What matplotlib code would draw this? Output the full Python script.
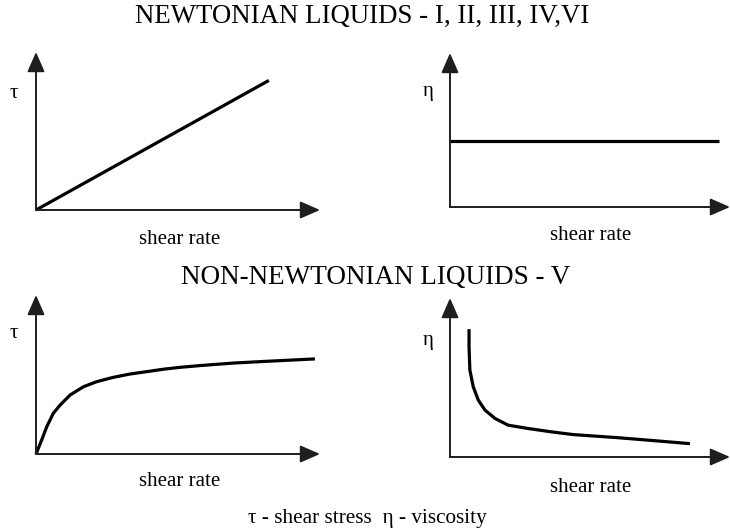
import numpy as np
import matplotlib
matplotlib.use('Agg')
import matplotlib.pyplot as plt

plt.rcParams['font.family'] = ['Liberation Serif', 'DejaVu Serif']

W, H = 730, 530

# panel curves, in units where the axis arrows end at 10
newt_tau_x = [0, 8.2]
newt_tau_y = [0, 8.2]
newt_eta_x = [0, 9.6]
newt_eta_y = [4.3, 4.3]
nonnewt_tau_x = [0, 0.20, 0.38, 0.61, 0.85, 1.20, 1.67, 2.14, 2.72, 3.31, 3.90, 4.48,
                 5.07, 5.77, 6.95, 8.12, 9.82]
nonnewt_tau_y = [0, 0.88, 1.72, 2.56, 3.08, 3.71, 4.23, 4.55, 4.82, 5.03, 5.18, 5.33,
                 5.45, 5.56, 5.72, 5.83, 5.98]
nonnewt_eta_x = [0.68, 0.68, 0.71, 0.83, 1.01, 1.25, 1.61, 2.08, 2.80, 3.63, 4.40,
                 5.95, 7.14, 8.57]
nonnewt_eta_y = [8.04, 6.94, 5.47, 4.42, 3.58, 2.95, 2.42, 2.00, 1.79, 1.58, 1.41,
                 1.22, 1.05, 0.84]

titles = ['NEWTONIAN LIQUIDS - I, II, III, IV,VI', 'NON-NEWTONIAN LIQUIDS - V']
footer = 'τ - shear stress  η - viscosity'
xlab = 'shear rate'

fig = plt.figure(figsize=(W / 100, H / 100), dpi=100)


def panel(x0, y0, x1, y1, xs, ys, ylab, ylab_pos, xlab_y):
    # x0, y0: origin in pixels; x1, y1: arrow tips
    ax = fig.add_axes([x0 / W, 1 - y0 / H, (x1 - x0) / W, (y0 - y1) / H])
    ax.set_xlim(0, 10)
    ax.set_ylim(0, 10)
    ax.axis('off')
    arrow = dict(arrowstyle='-|>,head_length=0.55,head_width=0.24', mutation_scale=22,
                 lw=1.4, color='#1e1e1e', shrinkA=0, shrinkB=0)
    ax.annotate('', xy=(10, 0), xytext=(0, 0), arrowprops=arrow, annotation_clip=False)
    ax.annotate('', xy=(0, 10), xytext=(0, 0), arrowprops=arrow, annotation_clip=False)
    ax.plot(xs, ys, color='black', lw=2.3, solid_capstyle='butt', solid_joinstyle='round',
            clip_on=False)
    ax.text(ylab_pos[0], ylab_pos[1], ylab, fontsize=15, ha='center', va='center')
    ax.text(5.04, xlab_y, xlab, fontsize=15, ha='center', va='center')
    return ax


panel(36, 210, 320, 52, newt_tau_x, newt_tau_y, 'τ', (-0.77, 7.4), -1.85)
panel(450, 207, 730, 53, newt_eta_x, newt_eta_y, 'η', (-0.79, 7.5), -1.84)
panel(36, 454, 320, 295, nonnewt_tau_x, nonnewt_tau_y, 'τ', (-0.77, 7.6), -1.7)
panel(450, 457, 730, 298, nonnewt_eta_x, nonnewt_eta_y, 'η', (-0.77, 7.3), -1.94)

fig.text(362 / W, 1 - 16 / H, titles[0], fontsize=19.3, ha='center', va='center')
fig.text(376 / W, 1 - 277 / H, titles[1], fontsize=19.5, ha='center', va='center')
fig.text(367 / W, 1 - 518 / H, footer, fontsize=15.3, ha='center', va='center')

fig.savefig('out.png', dpi=100)
